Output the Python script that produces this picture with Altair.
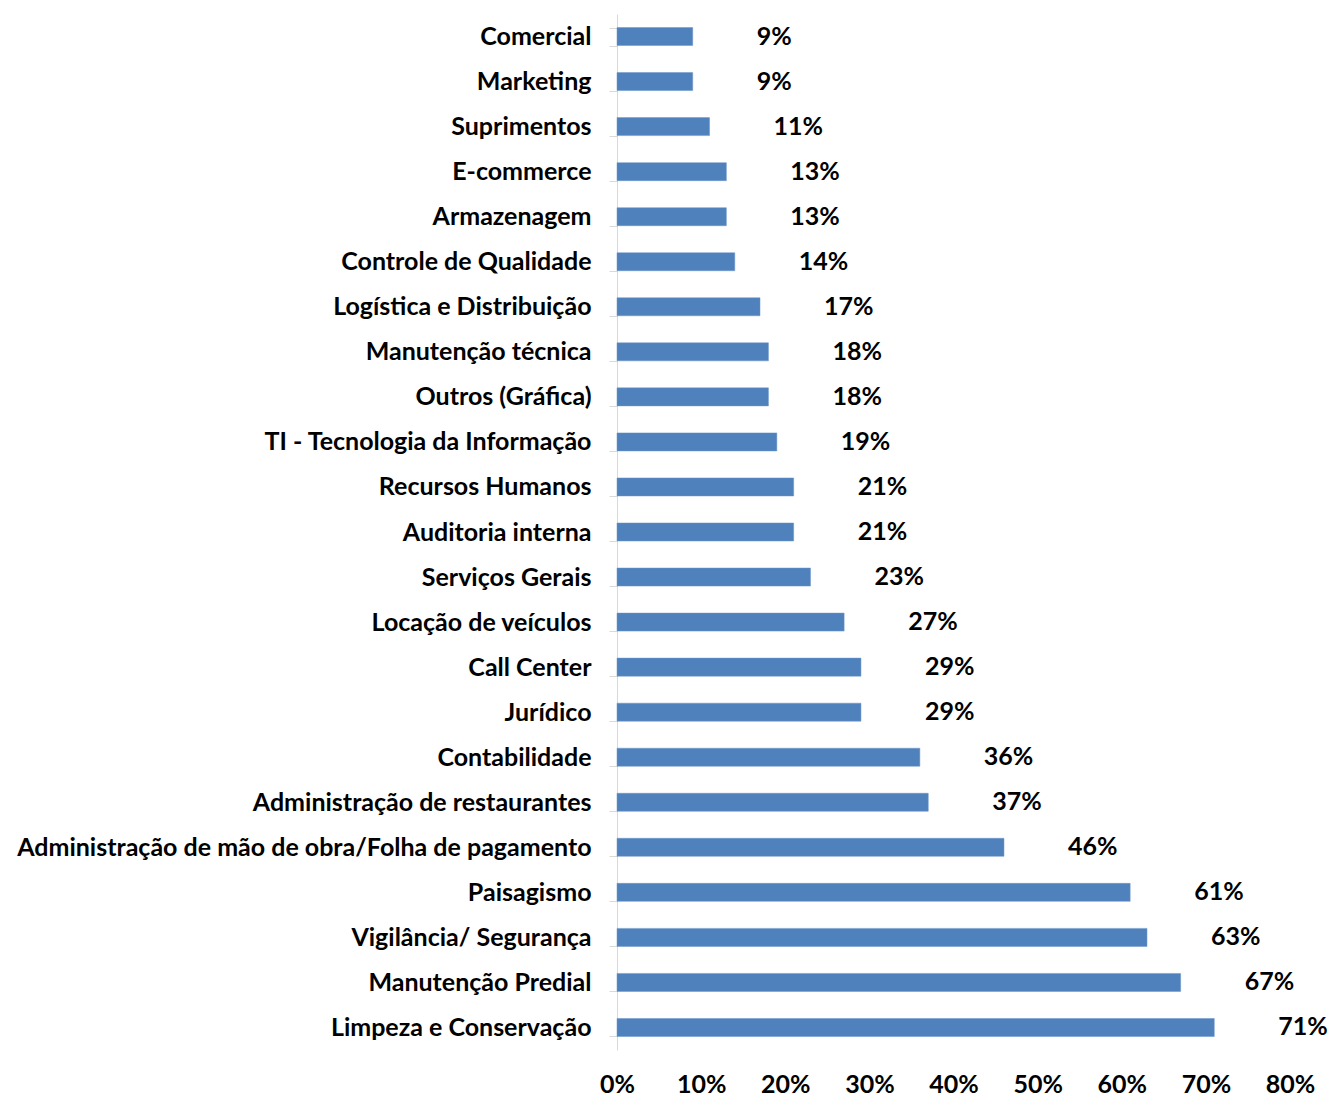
import altair as alt
import pandas as pd

categories = [
    "Comercial", "Marketing", "Suprimentos", "E-commerce", "Armazenagem",
    "Controle de Qualidade", "Logística e Distribuição", "Manutenção técnica",
    "Outros (Gráfica)", "TI - Tecnologia da Informação", "Recursos Humanos",
    "Auditoria interna", "Serviços Gerais", "Locação de veículos", "Call Center",
    "Jurídico", "Contabilidade", "Administração de restaurantes",
    "Administração de mão de obra/Folha de pagamento", "Paisagismo",
    "Vigilância/ Segurança", "Manutenção Predial", "Limpeza e Conservação",
]
values = [0.09, 0.09, 0.11, 0.13, 0.13, 0.14, 0.17, 0.18, 0.18, 0.19, 0.21,
          0.21, 0.23, 0.27, 0.29, 0.29, 0.36, 0.37, 0.46, 0.61, 0.63, 0.67, 0.71]
labels = [f"{round(v*100)}%" for v in values]

df = pd.DataFrame({"cat": categories, "val": values, "lab": labels})

FONT = "Lato"
FS = 25

y = alt.Y("cat:N", sort=categories, title=None,
          scale=alt.Scale(paddingInner=0.6, paddingOuter=0.3),
          axis=alt.Axis(labelFont=FONT, labelFontSize=FS, labelFontWeight="bold",
                        labelColor="#000000", domainColor="#D9D9D9", tickColor="#D9D9D9",
                        tickSize=8, tickBand="extent", labelPadding=18, labelLimit=800))
x = alt.X("val:Q", title=None,
          scale=alt.Scale(domain=[0, 0.8], nice=False),
          axis=alt.Axis(format=".0%", values=[0, 0.1, 0.2, 0.3, 0.4, 0.5, 0.6, 0.7, 0.8],
                        domain=False, ticks=False, grid=False, labelFont=FONT,
                        labelFontSize=FS, labelFontWeight="bold", labelColor="#000000",
                        labelPadding=22, labelFlush=False))

bars = alt.Chart(df).mark_bar(color="#4F81BD", stroke="#6A94C9", strokeWidth=0.5).encode(x=x, y=y)
text = alt.Chart(df).mark_text(align="left", baseline="middle", dx=64, font=FONT,
                               fontSize=FS, fontWeight="bold", color="#000000").encode(
    x=alt.X("val:Q"), y=alt.Y("cat:N", sort=categories), text="lab:N")

chart = (bars + text).properties(
    width=673, height=1036,
    padding={"left": 8, "right": 0, "top": -6, "bottom": 0},
).configure_view(stroke=None)

chart.save("out.html", embed_options={"renderer": "svg", "actions": False})
